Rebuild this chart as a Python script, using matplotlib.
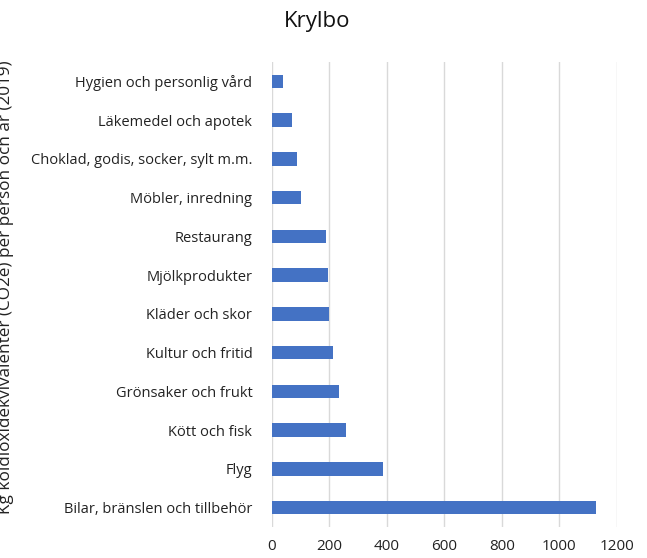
import matplotlib.pyplot as plt

plt.rcParams["font.family"] = ["Open Sans", "DejaVu Sans"]

categories = [
    "Bilar, bränslen och tillbehör",
    "Flyg",
    "Kött och fisk",
    "Grönsaker och frukt",
    "Kultur och fritid",
    "Kläder och skor",
    "Mjölkprodukter",
    "Restaurang",
    "Möbler, inredning",
    "Choklad, godis, socker, sylt m.m.",
    "Läkemedel och apotek",
    "Hygien och personlig vård",
]
values = [1128, 386, 260, 235, 214, 200, 195, 188, 101, 88, 72, 39]
x_ticks = [0, 200, 400, 600, 800, 1000, 1200]

fig = plt.figure(figsize=(6.47, 5.58), dpi=100)
ax = fig.add_axes([271.7 / 647, 31 / 558, 345 / 647, 465 / 558])

ax.barh(categories, values, height=0.35, color="#4472C4", zorder=3)
ax.set_xlim(0, 1200)
ax.set_ylim(-0.5, len(categories) - 0.5)
ax.set_xticks(x_ticks)
ax.xaxis.grid(True, color="#D9D9D9", linewidth=1, zorder=0)
for s in ax.spines.values():
    s.set_visible(False)
ax.tick_params(axis="both", length=0, labelsize=10.5, colors="#222222")
ax.tick_params(axis="x", labelsize=11, pad=9)
ax.tick_params(axis="y", pad=14)

fig.text(317 / 647, 1 - 22 / 558, "Krylbo", ha="center", va="center", fontsize=16, color="#111111")
fig.text(-4 / 647, 0.485, "Kg koldioxidekvivalenter (CO2e) per person och år (2019)",
         rotation=90, ha="left", va="center", fontsize=12.3, color="#222222")

fig.savefig("out.png", dpi=100)
